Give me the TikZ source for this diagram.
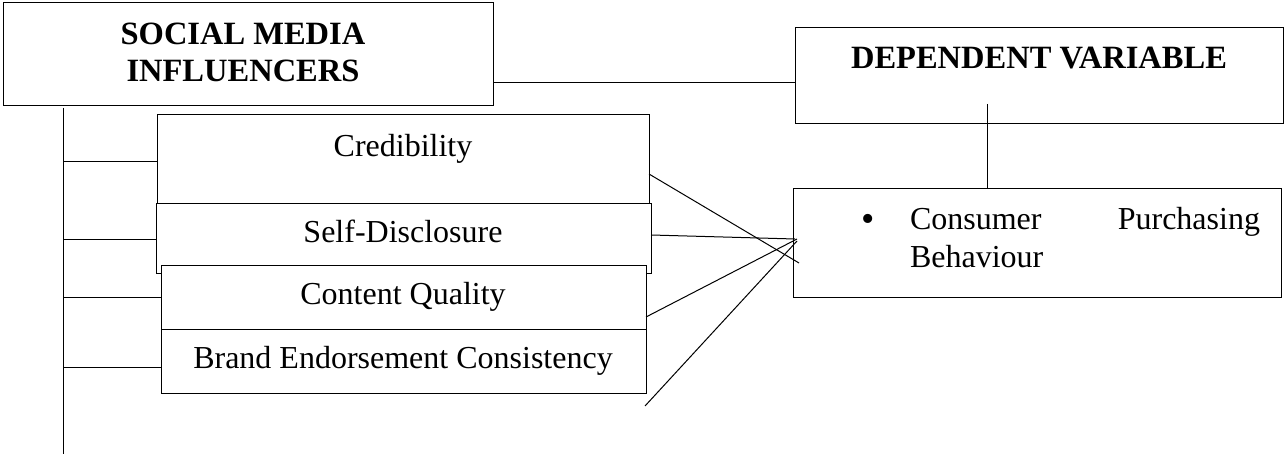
\documentclass[tikz,border=0pt]{standalone}
\usepackage{fontspec}
\setmainfont{Liberation Serif}
\begin{document}
\begin{tikzpicture}[x=1pt,y=-1pt,line width=1pt,
  box/.style={draw=black,fill=white,rectangle,inner sep=0pt,outer sep=0pt,anchor=north west},
  lbl/.style={inner sep=0pt,outer sep=0pt,anchor=base,font=\fontsize{32}{37}\selectfont},
  blbl/.style={lbl,font=\fontsize{32.5}{37}\selectfont\bfseries}]
\useasboundingbox[fill=white] (0,0) rectangle (1284,454);
% boxes
\node[box,minimum width=490pt,minimum height=103pt] (smi) at (3,3) {};
\node[box,minimum width=488pt,minimum height=96pt] (dv) at (795,28) {};
\node[box,minimum width=488pt,minimum height=108pt] (cpb) at (793,189) {};
\node[box,minimum width=492pt,minimum height=90pt] (cred) at (157,115) {};
\node[box,minimum width=495pt,minimum height=69pt] (self) at (156,204) {};
\node[box,minimum width=485pt,minimum height=64pt] (cq) at (161,265) {};
\node[box,minimum width=485pt,minimum height=64pt] (bec) at (161,329) {};
% texts
\node[blbl] (t1) at (243,45) {SOCIAL MEDIA};
\node[blbl] (t2) at (243,82) {INFLUENCERS};
\node[blbl] (t3) at (1039,69) {DEPENDENT VARIABLE};
\node[lbl] (t4) at (403,157) {Credibility};
\node[lbl] (t5) at (403,243) {Self-Disclosure};
\node[lbl] (t6) at (403,304) {Content Quality};
\node[lbl] (t7) at (403,368) {Brand Endorsement Consistency};
\node[lbl,font=\fontsize{38}{40}\selectfont] (bul) at (868,232) {\textbullet};
\node[lbl,anchor=base west] (t8) at (910,230) {Consumer};
\node[lbl,anchor=base east] (t9) at (1260,230) {Purchasing};
\node[lbl,anchor=base west] (t10) at (910,268) {Behaviour};
% coordinates
\coordinate (vtop) at (63,108);
\coordinate (vbot) at (63,454);
\coordinate (h1) at (63,162);
\coordinate (h2) at (63,240);
\coordinate (h3) at (63,297);
\coordinate (h4) at (63,367);
\coordinate (sm) at (493,83);
\coordinate (dvl) at (987,104);
\coordinate (e1) at (799,263);
\coordinate (e2) at (795,239);
\coordinate (e3) at (797,239);
\coordinate (e4) at (797,241);
\coordinate (s1) at (649,174);
\coordinate (s2) at (651,235);
\coordinate (s3) at (646,317);
\coordinate (s4) at (645,406);
% connectors
\draw (vtop) -- (vbot);
\draw (h1) -- (cred.west |- h1);
\draw (h2) -- (self.west |- h2);
\draw (h3) -- (cq.west |- h3);
\draw (h4) -- (bec.west |- h4);
\draw (smi.east |- sm) -- (dv.west |- sm);
\draw (dvl) -- (cpb.north -| dvl);
\draw (s1) -- (e1);
\draw (s2) -- (e2);
\draw (s3) -- (e3);
\draw (s4) -- (e4);
\end{tikzpicture}
\end{document}
